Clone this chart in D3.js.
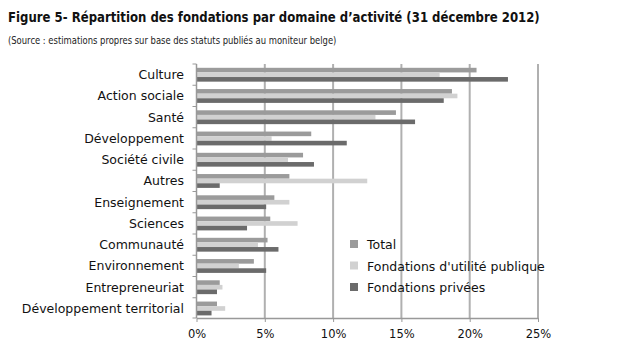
<!DOCTYPE html>
<html>
<head>
<meta charset="utf-8">
<script src="https://cdn.jsdelivr.net/npm/d3@7"></script>
<style>
  body { margin: 0; background: #fff; }
  text { font-family: "DejaVu Sans", Verdana, sans-serif; }
</style>
</head>
<body>
<div id="chart-container"></div>
<script>
// Figure 5 - fondations par domaine d'activité, three series per domain (%)

const categories = ["Culture", "Action sociale", "Santé", "Développement", "Société civile", "Autres",
                    "Enseignement", "Sciences", "Communauté", "Environnement", "Entrepreneuriat",
                    "Développement territorial"];
const series = ["Total", "Fondations d'utilité publique", "Fondations privées"];
const totalValues   = [20.5, 18.7, 14.6, 8.4, 7.8, 6.8, 5.7, 5.4, 5.2, 4.2, 1.7, 1.5];
const publicValues  = [17.8, 19.1, 13.1, 5.5, 6.7, 12.5, 6.8, 7.4, 4.5, 3.1, 1.9, 2.1];
const privateValues = [22.8, 18.1, 16.0, 11.0, 8.6, 1.7, 5.1, 3.7, 6.0, 5.1, 1.5, 1.1];
const xTicks = [0, 5, 10, 15, 20, 25];

const colors = ["#9b9b9b", "#d1d1d1", "#6b6b6b"];
const valuesBySeries = [totalValues, publicValues, privateValues];

const svgWidth = 621, svgHeight = 351;
const svg = d3.select("#chart-container").append("svg")
    .attr("width", svgWidth).attr("height", svgHeight);

// squeeze a text horizontally so it spans the given width (the source uses a narrow font)
function fitText(sel, x0, w) {
    const len = sel.node().getComputedTextLength();
    sel.attr("x", 0).attr("transform", `translate(${x0},${sel.attr("y")}) scale(${w / len},1)`).attr("y", 0);
}

const title = svg.append("text")
    .attr("y", 22)
    .attr("font-size", "14px").attr("font-weight", "bold")
    .attr("font-family", "'Liberation Sans', Arial, sans-serif")
    .attr("fill", "#111")
    .text("Figure 5- Répartition des fondations par domaine d’activité (31 décembre 2012)");
fitText(title, 8, 532);

const subtitle = svg.append("text")
    .attr("y", 44)
    .attr("font-size", "11px")
    .attr("font-family", "'Liberation Sans', Arial, sans-serif")
    .attr("fill", "#222")
    .text("(Source : estimations propres sur base des statuts publiés au moniteur belge)");
fitText(subtitle, 8, 329);

const x = d3.scaleLinear().domain([0, 25]).range([196.5, 538]);
const y = d3.scaleBand().domain(categories).range([64, 319]);
const ySub = d3.scaleBand().domain(series).range([3.8, y.bandwidth() - 3.6]);

// gridlines
svg.append("g").selectAll("line")
    .data(xTicks.filter(d => d > 0))
    .enter().append("line")
    .attr("x1", d => x(d)).attr("x2", d => x(d))
    .attr("y1", 64).attr("y2", 318)
    .attr("stroke", "#b0b0b0").attr("stroke-width", 2);

// bars
categories.forEach(function(cat, i) {
    series.forEach(function(s, j) {
        svg.append("rect")
            .attr("x", x(0))
            .attr("y", y(cat) + ySub(s))
            .attr("width", x(valuesBySeries[j][i]) - x(0))
            .attr("height", ySub.bandwidth())
            .attr("fill", colors[j]);
    });
});

// bottom axis
const xAxis = svg.append("g")
    .attr("transform", "translate(0,318)")
    .call(d3.axisBottom(x).tickValues(xTicks).tickFormat(d => d + "%").tickSize(4).tickSizeOuter(0));
xAxis.select(".domain").attr("stroke", "#999").attr("stroke-width", 1.5);
xAxis.selectAll(".tick line").attr("stroke", "#999");
xAxis.selectAll(".tick text").attr("font-size", "11.5px").attr("fill", "#111")
    .attr("font-family", "'DejaVu Sans', Verdana, sans-serif").attr("dy", "1.15em");

// left axis: line with ticks on band boundaries
svg.append("line")
    .attr("x1", x(0)).attr("x2", x(0)).attr("y1", 64).attr("y2", 318)
    .attr("stroke", "#999").attr("stroke-width", 1.5);
svg.append("g").selectAll("line")
    .data(categories.map(c => y(c)).concat([y.range()[1] - 1]))
    .enter().append("line")
    .attr("x1", x(0) - 4).attr("x2", x(0))
    .attr("y1", d => d).attr("y2", d => d)
    .attr("stroke", "#999");

svg.append("g").selectAll("text")
    .data(categories)
    .enter().append("text")
    .attr("x", 184)
    .attr("y", d => y(d) + y.bandwidth() / 2 + 4.5)
    .attr("text-anchor", "end")
    .attr("font-size", "12.5px")
    .attr("fill", "#111")
    .text(d => d);

// legend
const legendG = svg.append("g").attr("transform", "translate(350,240)");
series.forEach(function(s, i) {
    const row = legendG.append("g").attr("transform", `translate(0, ${i * 21.5})`);
    row.append("rect").attr("width", 8).attr("height", 8).attr("fill", colors[i]);
    row.append("text").attr("x", 17).attr("y", 9).attr("font-size", "12.5px").attr("fill", "#111").text(s);
});
</script>
</body>
</html>
